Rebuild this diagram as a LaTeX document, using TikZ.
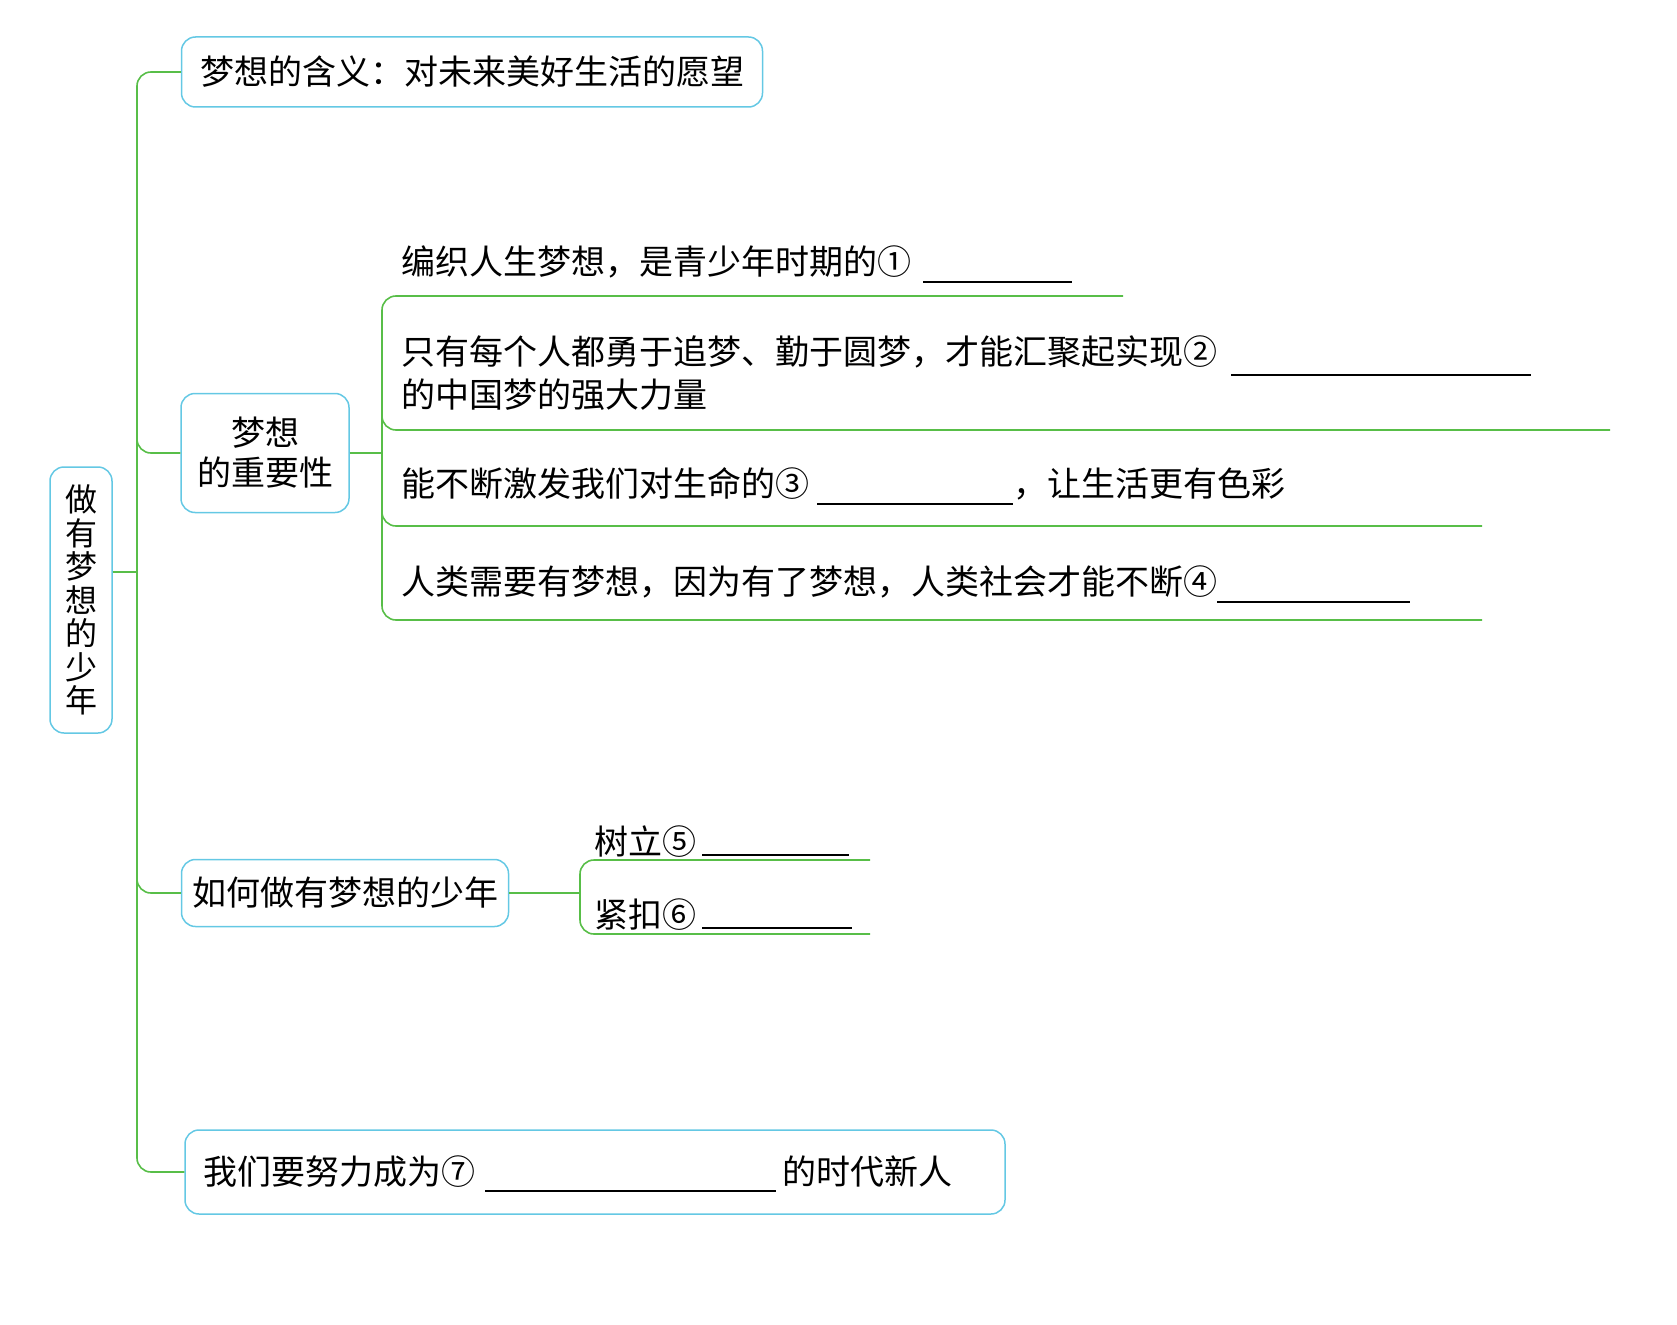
\documentclass[tikz,border=0pt]{standalone}
\usepackage{fontspec}
\setmainfont{Noto Sans CJK SC}
\definecolor{boxblue}{RGB}{100,200,228}
\definecolor{linkgreen}{RGB}{88,190,72}
\newcommand\fillblank[2][-9]{\smash{\rule[#1pt]{#2pt}{1.8pt}}}

\begin{document}
\begin{tikzpicture}[x=1pt, y=-1pt,
  topic/.style={draw=boxblue, line width=1.5pt, rounded corners=14pt, inner sep=0pt, align=center, font=\fontsize{34}{40}\selectfont},
  link/.style={draw=linkgreen, line width=1.6pt, rounded corners=14pt},
  leaf/.style={anchor=base west, inner sep=0pt, font=\fontsize{34}{43}\selectfont}]
\useasboundingbox (0,0) rectangle (1677,1324);
\node[topic, minimum width=62pt, minimum height=266pt, font=\fontsize{32}{33.5}\selectfont] (root) at (81,600) {做\\有\\梦\\想\\的\\少\\年};
\node[topic, minimum width=581pt, minimum height=70pt] (meaning) at (472,72) {梦想的含义：对未来美好生活的愿望};
\node[topic, minimum width=168pt, minimum height=119pt] (importance) at (265,453) {梦想\\的重要性};
\node[topic, minimum width=327pt, minimum height=67pt] (howto) at (345,893) {如何做有梦想的少年};
\node[topic, text width=784pt, inner xsep=18pt, align=left, minimum height=84pt] (become) at (595,1172) {我们要努力成为⑦\hspace{10pt}\fillblank[-7]{291}\hspace{6pt}的时代新人};
\node[leaf] (imp1) at (401,274) {编织人生梦想，是青少年时期的①\hspace{12pt}\fillblank{149}};
\node[leaf, align=left] (imp2) at (401,407) {只有每个人都勇于追梦、勤于圆梦，才能汇聚起实现②\hspace{14pt}\fillblank[-12]{300}\\的中国梦的强大力量};
\node[leaf] (imp3) at (401,496) {能不断激发我们对生命的③\hspace{8pt}\fillblank{196}，让生活更有色彩};
\node[leaf] (imp4) at (401,594) {人类需要有梦想，因为有了梦想，人类社会才能不断④\fillblank{193}};
\node[leaf] (how1) at (594,854) {树立⑤\hspace{6pt}\fillblank[-2]{147}};
\node[leaf] (how2) at (594,927) {紧扣⑥\hspace{6pt}\fillblank[-2]{150}};
% trunk
\coordinate (trunk) at (137,572);
\draw[link] (root.east |- trunk) -- (trunk);
\draw[link] (meaning.west) -| (trunk) |- (become.west);
\draw[link] ([yshift=20pt]trunk |- importance.west) |- (importance.west);
\draw[link] ([yshift=20pt]trunk |- howto.west) |- (howto.west);
% importance bracket
\coordinate (imp) at (382,453);
\coordinate (e1) at (1123,296);
\coordinate (e2) at (1610,430);
\coordinate (e3) at (1482,526);
\coordinate (e4) at (1482,620);
\draw[link] (importance.east) -- (imp);
\draw[link] (e1) -| (imp) |- (e4);
\draw[link] ([yshift=20pt]imp |- e2) |- (e2);
\draw[link] ([yshift=20pt]imp |- e3) |- (e3);
% howto bracket
\coordinate (how) at (580,893);
\coordinate (e5) at (870,860);
\coordinate (e6) at (870,934);
\draw[link] (howto.east) -- (how);
\draw[link] (e5) -| (how) |- (e6);
\end{tikzpicture}
\end{document}
